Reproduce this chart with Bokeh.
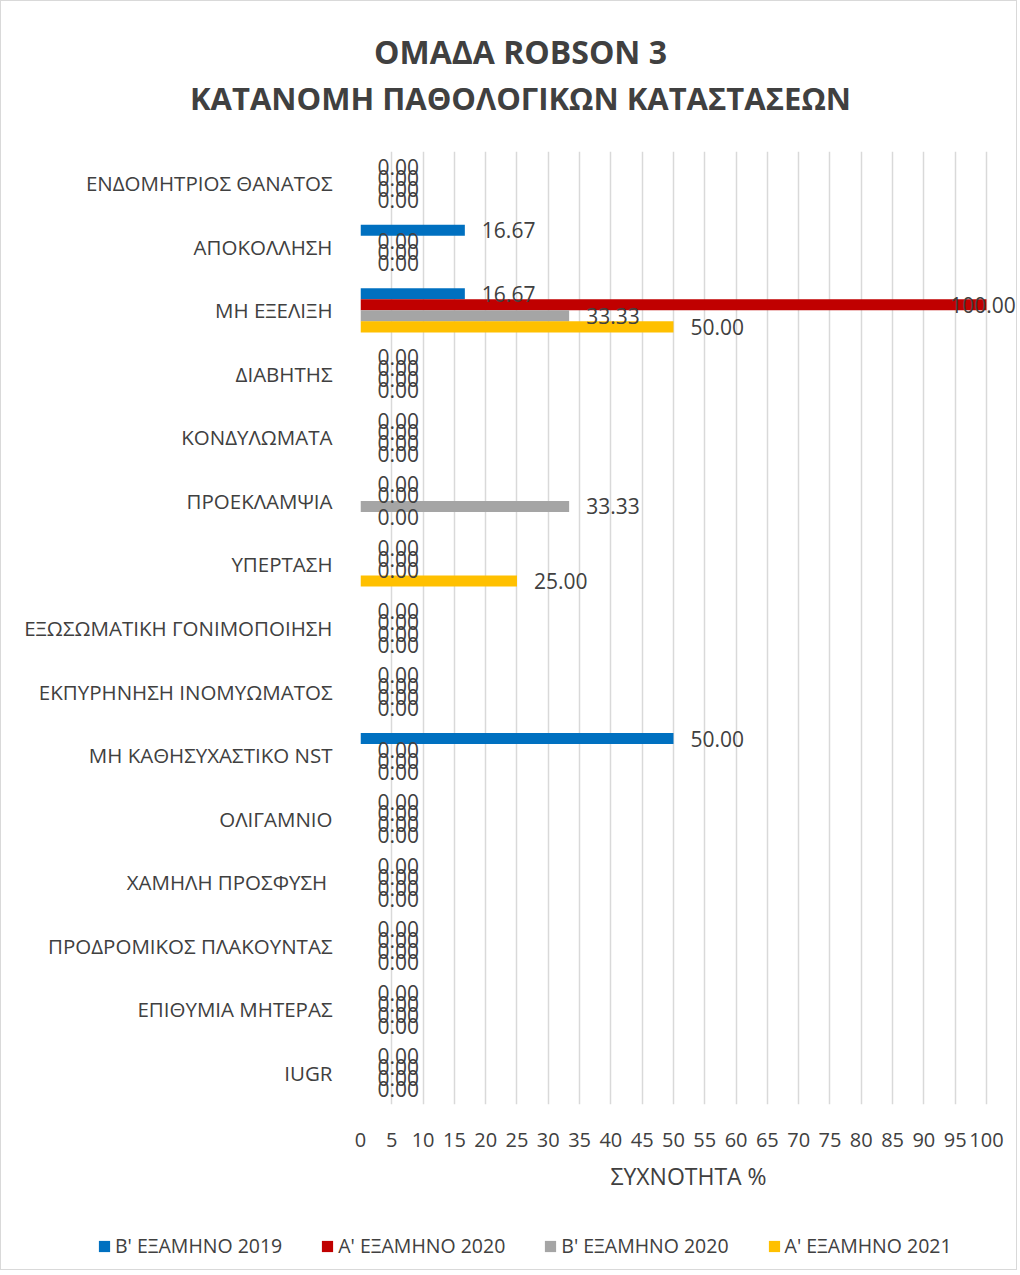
import numpy as np
from bokeh.plotting import figure
from bokeh.layouts import column
from bokeh.models import (ColumnDataSource, FactorRange, FixedTicker, LabelSet, Label,
                          Legend, LegendItem)
from bokeh.transform import dodge
from bokeh.core.properties import value
from bokeh.embed import file_html
from bokeh.resources import INLINE

title_lines = ["ΟΜΑΔΑ ROBSON 3", "ΚΑΤΑΝΟΜΗ ΠΑΘΟΛΟΓΙΚΩΝ ΚΑΤΑΣΤΑΣΕΩΝ"]
categories = [
    "ΕΝΔΟΜΗΤΡΙΟΣ ΘΑΝΑΤΟΣ",
    "ΑΠΟΚΟΛΛΗΣΗ",
    "ΜΗ ΕΞΕΛΙΞΗ",
    "ΔΙΑΒΗΤΗΣ",
    "ΚΟΝΔΥΛΩΜΑΤΑ",
    "ΠΡΟΕΚΛΑΜΨΙΑ",
    "ΥΠΕΡΤΑΣΗ",
    "ΕΞΩΣΩΜΑΤΙΚΗ ΓΟΝΙΜΟΠΟΙΗΣΗ",
    "ΕΚΠΥΡΗΝΗΣΗ ΙΝΟΜΥΩΜΑΤΟΣ",
    "ΜΗ ΚΑΘΗΣΥΧΑΣΤΙΚΟ NST",
    "ΟΛΙΓΑΜΝΙΟ",
    "ΧΑΜΗΛΗ ΠΡΟΣΦΥΣΗ ",
    "ΠΡΟΔΡΟΜΙΚΟΣ ΠΛΑΚΟΥΝΤΑΣ",
    "ΕΠΙΘΥΜΙΑ ΜΗΤΕΡΑΣ",
    "IUGR",
]
series_names = ["Β' ΕΞΑΜΗΝΟ 2019", "Α' ΕΞΑΜΗΝΟ 2020", "Β' ΕΞΑΜΗΝΟ 2020", "Α' ΕΞΑΜΗΝΟ 2021"]
b_2019 = [0, 16.67, 16.67, 0, 0, 0, 0, 0, 0, 50.00, 0, 0, 0, 0, 0]
a_2020 = [0, 0, 100.00, 0, 0, 0, 0, 0, 0, 0, 0, 0, 0, 0, 0]
b_2020 = [0, 0, 33.33, 0, 0, 33.33, 0, 0, 0, 0, 0, 0, 0, 0, 0]
a_2021 = [0, 0, 50.00, 0, 0, 0, 25.00, 0, 0, 0, 0, 0, 0, 0, 0]
x_ticks = list(range(0, 101, 5))

colors = ["#0070C0", "#C00000", "#A5A5A5", "#FFC000"]
offsets = [0.26, 0.087, -0.087, -0.26]
series_vals = [b_2019, a_2020, b_2020, a_2021]

FONT = "Open Sans"
TXT = "#404040"
W = 1015
FRAME_LEFT = 359

ALIGN_OFF = True


def bare_figure(height, **kw):
    global ALIGN_OFF
    f = figure(width=W, height=height, output_backend="svg", toolbar_location=None,
               min_border=0, min_border_left=0, min_border_right=0,
               min_border_top=0, min_border_bottom=0, **kw)
    try:
        f.frame_align = False
    except Exception:
        ALIGN_OFF = False
    f.axis.visible = False
    f.grid.grid_line_color = None
    f.outline_line_color = None
    return f


# ---- main chart ----
p = figure(frame_width=656, frame_height=953,
           y_range=FactorRange(*reversed(categories)),
           x_range=(0, 104.8), output_backend="svg", toolbar_location=None,
           min_border_left=FRAME_LEFT, min_border_right=0, min_border_top=25,
           min_border_bottom=95)

sources = []
for name, vals, col, off in zip(series_names, series_vals, colors, offsets):
    v = np.array(vals, dtype=float)
    src = ColumnDataSource(dict(cat=categories, val=v,
                                lx=np.minimum(v, 91.5),   # labels that would overrun are pulled back
                                lab=[f"{x:.2f}" for x in v]))
    sources.append(src)
    p.hbar(y=dodge("cat", off, range=p.y_range), right="val", left=0, height=0.175,
           source=src, fill_color=col, line_color=None)
    p.add_layout(LabelSet(x="lx", y=dodge("cat", off, range=p.y_range), text="lab",
                          source=src, x_offset=17, text_baseline="middle",
                          text_align="left", text_font=value(FONT),
                          text_font_size="21px", text_color=TXT))

p.xaxis.ticker = FixedTicker(ticks=x_ticks)
p.xaxis.axis_line_color = None
p.xaxis.major_tick_line_color = None
p.xaxis.minor_tick_line_color = None
p.xaxis.major_label_text_font = FONT
p.xaxis.major_label_text_font_size = "20px"
p.xaxis.major_label_text_color = TXT
p.xaxis.major_label_standoff = 22
p.xaxis.axis_label = "ΣΥΧΝΟΤΗΤΑ %"
p.xaxis.axis_label_text_font = FONT
p.xaxis.axis_label_text_font_size = "23px"
p.xaxis.axis_label_text_font_style = "normal"
p.xaxis.axis_label_text_color = TXT
p.xaxis.axis_label_standoff = 10

p.yaxis.axis_line_color = None
p.yaxis.major_tick_line_color = None
p.yaxis.minor_tick_line_color = None
p.yaxis.major_label_text_font = FONT
p.yaxis.major_label_text_font_size = "20.5px"
p.yaxis.major_label_text_color = TXT
p.yaxis.major_label_standoff = 22

p.xgrid.grid_line_color = "#d9d9d9"
p.xgrid.grid_line_width = 1.5
p.ygrid.grid_line_color = None
p.outline_line_color = None

# ---- title strip ----
title_fig = bare_figure(125, x_range=(0, 1), y_range=(0, 1))
shift = 0 if ALIGN_OFF else FRAME_LEFT
for txt, ypos, fs in zip(title_lines, [75, 29], ["32px", "31px"]):
    title_fig.add_layout(Label(x=519 - shift, y=ypos, x_units="screen", y_units="screen",
                               text=txt, text_align="center", text_baseline="middle",
                               text_font=FONT, text_font_size=fs,
                               text_font_style="bold", text_color=TXT))

# ---- legend strip (same series sources, drawn out of its view) ----
leg_fig = bare_figure(70, x_range=(-2, -1), y_range=FactorRange(*reversed(categories)))
items = []
for name, src, col in zip(series_names, sources, colors):
    r = leg_fig.hbar(y="cat", right="val", left=0, height=0.5, source=src,
                     fill_color=col, line_color=None)
    items.append(LegendItem(label=name, renderers=[r]))
legend = Legend(items=items, orientation="horizontal", location=(96 - shift, 10),
                label_text_font=FONT, label_text_font_size="19.5px", label_text_color=TXT,
                glyph_width=14, glyph_height=14, label_standoff=4, spacing=38,
                border_line_color=None, background_fill_alpha=0, margin=0, padding=0)
leg_fig.add_layout(legend)

layout = column(title_fig, p, leg_fig, spacing=0,
                styles={"border": "1px solid #d9d9d9"})

open("out.html", "w").write(file_html(layout, INLINE))
